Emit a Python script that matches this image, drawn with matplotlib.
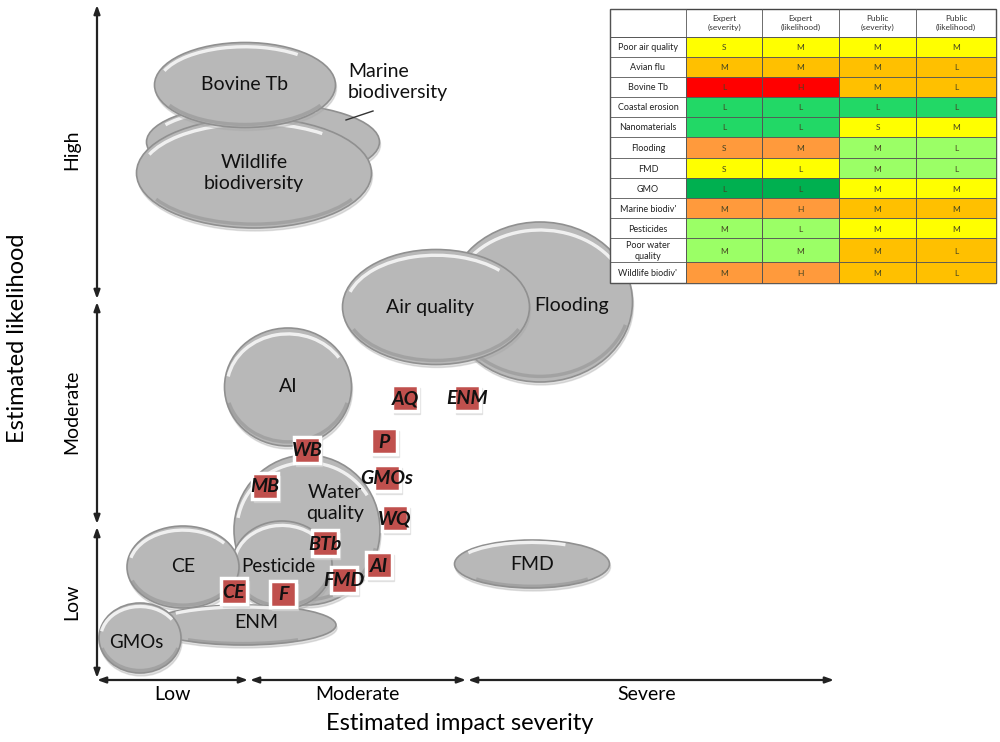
import matplotlib.pyplot as plt
from matplotlib.patches import Ellipse, Arc, Rectangle

plt.rcParams['font.family'] = ['Lato', 'DejaVu Sans']

# bubbles: label, centre x, centre y, width, height (pixel units of the diagram)
bubble_names = ["Marine", "Wildlife\nbiodiversity", "Bovine Tb", "Flooding", "Air quality",
                "AI", "Water\nquality", "Pesticide", "CE", "ENM", "GMOs", "FMD"]
bubble_x = [263, 254, 245, 540, 436, 288, 307, 282, 183, 243, 140, 532]
bubble_y = [142, 173, 85, 302, 307, 387, 530, 565, 567, 625, 638, 564]
bubble_w = [233, 235, 181, 185, 187, 127, 146, 100, 112, 186, 82, 155]
bubble_h = [78, 110, 85, 160, 115, 118, 150, 88, 82, 40, 70, 48]
# where the label sits relative to centre
label_dx = [0, 0, 0, 32, -6, 0, 28, -4, 0, 13, -4, 0]
label_dy = [0, 0, 0, 4, 0, 0, -27, 1, 0, -3, 4, 0]

# expert (red square) labels
expert_names = ["AQ", "ENM", "P", "GMOs", "WQ", "WB", "MB", "BTb", "AI", "FMD", "CE", "F"]
expert_x = [405, 467, 384, 387, 395, 307, 265, 325, 379, 344, 234, 283]
expert_y = [398, 398, 441, 478, 518, 450, 486, 543, 565, 580, 591, 594]

# table
table_rows = ["Poor air quality", "Avian flu", "Bovine Tb", "Coastal erosion", "Nanomaterials",
              "Flooding", "FMD", "GMO", "Marine biodiv'", "Pesticides", "Poor water\nquality",
              "Wildlife biodiv'"]
table_cols = ["Expert\n(severity)", "Expert\n(likelihood)", "Public\n(severity)", "Public\n(likelihood)"]
table_vals = [
    ["S", "M", "M", "M"],
    ["M", "M", "M", "L"],
    ["L", "H", "M", "L"],
    ["L", "L", "L", "L"],
    ["L", "L", "S", "M"],
    ["S", "M", "M", "L"],
    ["S", "L", "M", "L"],
    ["L", "L", "M", "M"],
    ["M", "H", "M", "M"],
    ["M", "L", "M", "M"],
    ["M", "M", "M", "L"],
    ["M", "H", "M", "L"],
]
Y, A, R, G, DG, LG, O = "#FFFF00", "#FFC000", "#FF0000", "#22D866", "#00B050", "#9BFF66", "#FF9A3C"
table_colours = [
    [Y, Y, Y, Y],
    [A, A, A, A],
    [R, R, A, A],
    [G, G, G, G],
    [G, G, Y, Y],
    [O, O, LG, LG],
    [Y, Y, LG, LG],
    [DG, DG, Y, Y],
    [O, O, A, A],
    [LG, LG, Y, Y],
    [LG, LG, A, A],
    [O, O, A, A],
]

fig = plt.figure(figsize=(10, 7.42), dpi=100)
ax = fig.add_axes([0, 0, 1, 1])
ax.set_xlim(0, 1000)
ax.set_ylim(742, 0)
ax.axis("off")

# bubbles (y axis is inverted, so angles 180-360 are the upper rim)
for i, name in enumerate(bubble_names):
    x, y, w, h = bubble_x[i], bubble_y[i], bubble_w[i], bubble_h[i]
    z = 2 + i * 0.1
    ax.add_patch(Ellipse((x + 1, y + 3), w, h, color="#a8a8a8", alpha=0.35, zorder=z))
    ax.add_patch(Ellipse((x, y), w, h, facecolor="#b8b8b8", edgecolor="#909090", lw=1.2, zorder=z))
    ax.add_patch(Arc((x, y), w * 0.96, h * 0.9, theta1=190, theta2=330, color="white",
                     lw=2.4, alpha=0.8, zorder=z))
    ax.add_patch(Arc((x, y), w * 0.97, h * 0.93, theta1=15, theta2=165, color="#8e8e8e",
                     lw=2.5, alpha=0.5, zorder=z))
    if name != "Marine":
        fs = 14 if name not in ("Pesticide", "GMOs") else 13.5
        ax.text(x + label_dx[i], y + label_dy[i], name, ha="center", va="center",
                fontsize=fs, color="#111111", linespacing=1.35, zorder=z + 0.05)

ax.text(348, 82, "Marine\nbiodiversity", ha="left", va="center", fontsize=14,
        color="#111111", linespacing=1.3, zorder=5)
ax.plot([346, 373], [120, 111], color="#333333", lw=1, zorder=5)

# expert squares
for i, name in enumerate(expert_names):
    x, y = expert_x[i], expert_y[i]
    ax.add_patch(Rectangle((x - 11, y - 10), 26, 26, color="#d5d5d5", alpha=0.6, zorder=10))
    ax.add_patch(Rectangle((x - 13, y - 13), 26, 26, facecolor="#C0504D", edgecolor="white",
                           lw=2.5, zorder=10.1))
    ax.text(x, y + 1, name, ha="center", va="center", fontsize=14, fontweight="bold",
            fontstyle="italic", color="#111111", zorder=10.2)

# axes arrows
arrow = dict(arrowstyle="<|-|>,head_length=0.5,head_width=0.18", color="#222222", lw=1.6,
             shrinkA=0, shrinkB=0)
for y0, y1 in [(5, 299), (302, 524), (527, 678)]:
    ax.annotate("", xy=(97, y0), xytext=(97, y1), arrowprops=arrow)
for x0, x1 in [(97, 248), (250, 466), (468, 834)]:
    ax.annotate("", xy=(x0, 680), xytext=(x1, 680), arrowprops=arrow)

ax.text(72, 150, "High", rotation=90, ha="center", va="center", fontsize=14)
ax.text(72, 412, "Moderate", rotation=90, ha="center", va="center", fontsize=14)
ax.text(72, 602, "Low", rotation=90, ha="center", va="center", fontsize=14)
ax.text(18, 338, "Estimated likelihood", rotation=90, ha="center", va="center", fontsize=17)

ax.text(173, 695, "Low", ha="center", va="center", fontsize=14)
ax.text(357, 695, "Moderate", ha="center", va="center", fontsize=14)
ax.text(647, 695, "Severe", ha="center", va="center", fontsize=14)
ax.text(460, 723, "Estimated impact severity", ha="center", va="center", fontsize=17)

# table
col_edges = [610, 686, 762, 839, 916, 996]
row_edges = [9, 37, 57, 77, 97, 117, 137, 158, 178, 198, 218, 238, 262, 283]
ax.add_patch(Rectangle((col_edges[0], row_edges[0]), col_edges[-1] - col_edges[0],
                       row_edges[-1] - row_edges[0], facecolor="white", edgecolor="#444444",
                       lw=1, zorder=20))
for j, head in enumerate(table_cols):
    ax.text((col_edges[j + 1] + col_edges[j + 2]) / 2, (row_edges[0] + row_edges[1]) / 2, head,
            ha="center", va="center", fontsize=6, color="#333333", linespacing=1.3, zorder=22)
for i, rname in enumerate(table_rows):
    top, bot = row_edges[i + 1], row_edges[i + 2]
    ax.text((col_edges[0] + col_edges[1]) / 2, (top + bot) / 2 + 1, rname, ha="center",
            va="center", fontsize=6.5, color="#222222", linespacing=1.2, zorder=22)
    for j in range(4):
        x0, x1 = col_edges[j + 1], col_edges[j + 2]
        ax.add_patch(Rectangle((x0, top), x1 - x0, bot - top, facecolor=table_colours[i][j],
                               edgecolor="#555555", lw=0.6, zorder=21))
        ax.text((x0 + x1) / 2, (top + bot) / 2 + 1, table_vals[i][j], ha="center", va="center",
                fontsize=6, color="#444422", zorder=22)
for y in row_edges:
    ax.plot([col_edges[0], col_edges[1]], [y, y], color="#555555", lw=0.6, zorder=21)
for x in col_edges:
    ax.plot([x, x], [row_edges[0], row_edges[-1]], color="#555555", lw=0.6, zorder=21)
ax.plot([col_edges[0], col_edges[-1]], [row_edges[1], row_edges[1]], color="#555555", lw=0.6, zorder=21)

plt.savefig("out.png", dpi=100)
